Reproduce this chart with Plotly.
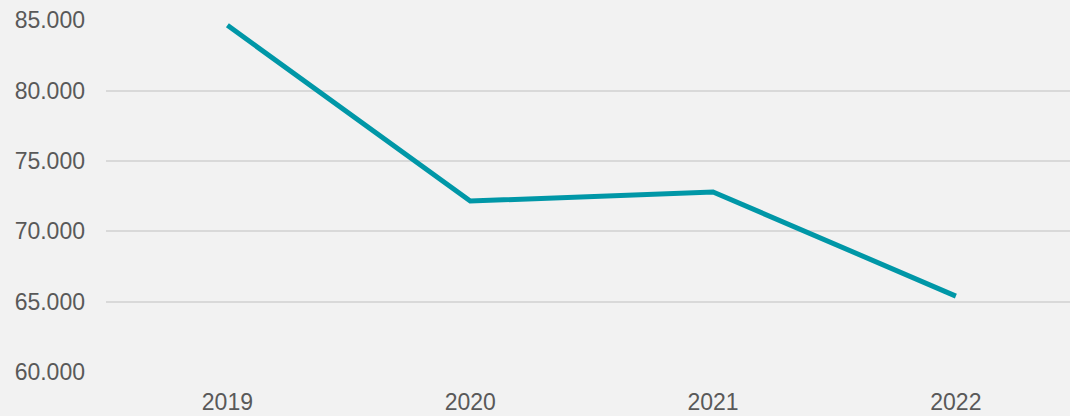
import plotly.graph_objects as go

years = ["2019", "2020", "2021", "2022"]
values = [84650, 72150, 72800, 65390]
ytick_vals = [60000, 65000, 70000, 75000, 80000, 85000]

fig = go.Figure()
fig.add_trace(go.Scatter(
    x=years, y=values, mode="lines",
    line=dict(color="#0097A7", width=5),
    hoverinfo="skip",
))

fig.update_layout(
    width=1070, height=416,
    margin=dict(l=106, r=0, t=20, b=44),
    paper_bgcolor="#F2F2F2", plot_bgcolor="#F2F2F2",
    separators=",.",
    showlegend=False,
    font=dict(family="Liberation Sans, Arial, sans-serif", size=23, color="#595959"),
)
fig.update_xaxes(
    type="category", range=[-0.5, 3.47],
    showgrid=False, showline=False, zeroline=False,
    ticks="", ticklabelstandoff=14,
)
fig.update_yaxes(
    range=[59990, 85030], tickvals=ytick_vals, tickformat=",d",
    showgrid=True, gridcolor="#D9D9D9", gridwidth=2,
    zeroline=False, showline=False, ticks="", ticklabelstandoff=20,
)

fig.write_html(
    "out.html",
    config={"displayModeBar": False},
    post_script="document.body.style.margin='0';document.body.style.overflow='hidden';document.body.style.background='#F2F2F2';",
)
